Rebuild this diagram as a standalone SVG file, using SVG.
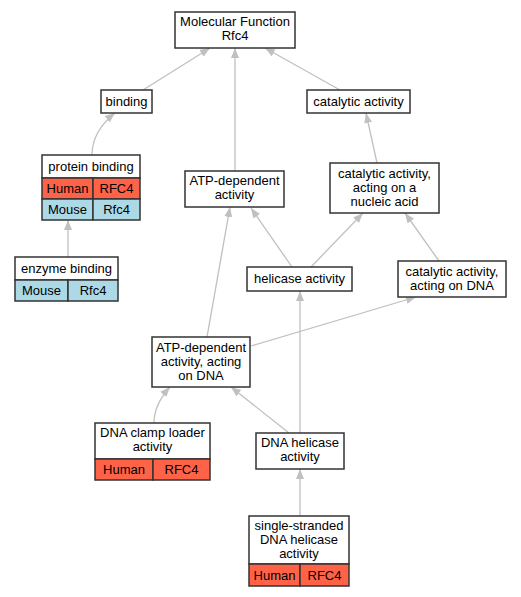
<svg xmlns="http://www.w3.org/2000/svg" width="521" height="597" viewBox="0 0 521 597">
<style>
.n{fill:#fff;stroke:#333;stroke-width:1.5}
.h{fill:#ff6347;stroke:#333;stroke-width:1.5}
.m{fill:#add8e6;stroke:#333;stroke-width:1.5}
text{font-family:"Liberation Sans",Arial,sans-serif;font-size:13px;fill:#000;text-anchor:middle}
.e{fill:none;stroke:#c0c0c0;stroke-width:1.3;marker-end:url(#a)}
</style>
<defs>
<marker id="a" markerUnits="userSpaceOnUse" markerWidth="11" markerHeight="9" refX="10" refY="4" orient="auto" viewBox="0 0 11 9">
<path d="M0,0 L10,4 L0,8 z" fill="#c0c0c0"/>
</marker>
</defs>
<rect width="521" height="597" fill="#fff"/>
<g id="edges">
<path class="e" d="M143,90 L210,48"/>
<path class="e" d="M235,171 L235,48"/>
<path class="e" d="M340,90 L265,48"/>
<path class="e" d="M92,155 C92,140 100,125 115,113"/>
<path class="e" d="M68,257 L68,220"/>
<path class="e" d="M377,163 L366,113"/>
<path class="e" d="M292,267 L251,208"/>
<path class="e" d="M311,267 L363,213"/>
<path class="e" d="M439,261 L405,213"/>
<path class="e" d="M207,337 L230,207"/>
<path class="e" d="M251,346 L416,297"/>
<path class="e" d="M154,423 C154,410 160,398 170,387"/>
<path class="e" d="M289,433 L231,387"/>
<path class="e" d="M300,433 L300,291"/>
<path class="e" d="M300,516 L300,469"/>
</g>
<g id="mf">
<rect class="n" x="175" y="12" width="120" height="36"/>
<text x="235" y="26">Molecular Function</text>
<text x="235" y="40">Rfc4</text>
</g>
<g id="binding">
<rect class="n" x="101" y="90" width="51" height="23"/>
<text x="126.5" y="106">binding</text>
</g>
<g id="catalytic">
<rect class="n" x="307" y="90" width="103" height="23"/>
<text x="358.5" y="106">catalytic activity</text>
</g>
<g id="protein-binding">
<rect class="n" x="42" y="155" width="98" height="23"/>
<text x="91" y="171">protein binding</text>
<rect class="h" x="42" y="178" width="51" height="21"/>
<rect class="h" x="93" y="178" width="47" height="21"/>
<text x="67.5" y="193">Human</text>
<text x="116.5" y="193">RFC4</text>
<rect class="m" x="42" y="199" width="51" height="21"/>
<rect class="m" x="93" y="199" width="47" height="21"/>
<text x="67.5" y="214">Mouse</text>
<text x="116.5" y="214">Rfc4</text>
</g>
<g id="atp">
<rect class="n" x="185" y="171" width="99" height="36"/>
<text x="234.5" y="185">ATP-dependent</text>
<text x="234.5" y="199">activity</text>
</g>
<g id="nucleic">
<rect class="n" x="330" y="163" width="109" height="50"/>
<text x="384.5" y="178">catalytic activity,</text>
<text x="384.5" y="192">acting on a</text>
<text x="384.5" y="206">nucleic acid</text>
</g>
<g id="enzyme-binding">
<rect class="n" x="15" y="257" width="103" height="23"/>
<text x="66.5" y="273">enzyme binding</text>
<rect class="m" x="15" y="280" width="53" height="21"/>
<rect class="m" x="68" y="280" width="50" height="21"/>
<text x="41.5" y="295">Mouse</text>
<text x="93" y="295">Rfc4</text>
</g>
<g id="helicase">
<rect class="n" x="247" y="267" width="105" height="24"/>
<text x="299.5" y="283">helicase activity</text>
</g>
<g id="on-dna">
<rect class="n" x="398" y="261" width="108" height="36"/>
<text x="452" y="276">catalytic activity,</text>
<text x="452" y="290">acting on DNA</text>
</g>
<g id="atp-dna">
<rect class="n" x="152" y="337" width="98" height="50"/>
<text x="201" y="352">ATP-dependent</text>
<text x="201" y="366">activity, acting</text>
<text x="201" y="380">on DNA</text>
</g>
<g id="clamp">
<rect class="n" x="95" y="423" width="115" height="36"/>
<text x="152.5" y="437">DNA clamp loader</text>
<text x="152.5" y="451">activity</text>
<rect class="h" x="95" y="459" width="58" height="21"/>
<rect class="h" x="153" y="459" width="57" height="21"/>
<text x="124" y="474">Human</text>
<text x="181.5" y="474">RFC4</text>
</g>
<g id="dna-helicase">
<rect class="n" x="256" y="433" width="88" height="36"/>
<text x="300" y="447">DNA helicase</text>
<text x="300" y="461">activity</text>
</g>
<g id="ss-helicase">
<rect class="n" x="249" y="516" width="100" height="48"/>
<text x="299" y="530">single-stranded</text>
<text x="299" y="544">DNA helicase</text>
<text x="299" y="558">activity</text>
<rect class="h" x="249" y="564" width="51" height="22"/>
<rect class="h" x="300" y="564" width="49" height="22"/>
<text x="274.5" y="580">Human</text>
<text x="324.5" y="580">RFC4</text>
</g>
</svg>
